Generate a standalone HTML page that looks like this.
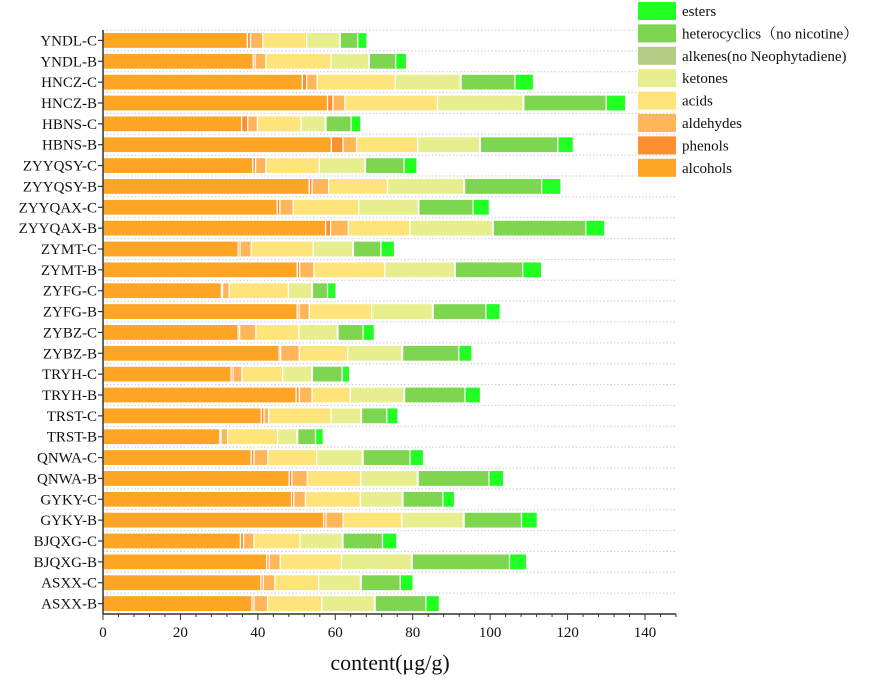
<!DOCTYPE html>
<html><head><meta charset="utf-8"><style>
body{margin:0;background:#fff;width:886px;height:676px;overflow:hidden}
svg text{font-family:"Liberation Serif","Noto Serif CJK SC",serif;fill:#111}
</style></head><body>
<svg id="chart" width="886" height="676" viewBox="0 0 886 676" xmlns="http://www.w3.org/2000/svg">
<g id="grid"></g>
<g id="bars"></g>
<g id="axes"></g>
<g id="legend"></g>
<text x="390" y="670" text-anchor="middle" font-size="22">content(μg/g)</text>
</svg>
<script>
const categories=["YNDL-C","YNDL-B","HNCZ-C","HNCZ-B","HBNS-C","HBNS-B","ZYYQSY-C","ZYYQSY-B","ZYYQAX-C","ZYYQAX-B","ZYMT-C","ZYMT-B","ZYFG-C","ZYFG-B","ZYBZ-C","ZYBZ-B","TRYH-C","TRYH-B","TRST-C","TRST-B","QNWA-C","QNWA-B","GYKY-C","GYKY-B","BJQXG-C","BJQXG-B","ASXX-C","ASXX-B"];
const alcohols=[37.3,38.8,51.5,58.0,35.8,59.0,38.7,53.3,45.0,57.5,34.9,50.2,30.6,50.2,34.9,45.5,33.1,49.9,40.9,30.2,38.3,48.1,48.7,57.0,35.5,42.3,40.8,38.5];
const phenols=[0.8,0.5,1.1,1.4,1.6,3.0,0.7,0.7,0.7,1.3,0.5,0.6,0.3,0.5,0.4,0.4,0.5,0.8,0.7,0.3,0.7,0.7,0.6,0.6,0.8,0.6,0.6,0.5];
const aldehydes=[3.2,2.8,2.7,3.1,2.5,3.5,2.7,4.3,3.4,4.6,2.9,3.7,1.7,2.6,4.2,4.8,2.3,3.3,1.2,1.7,3.6,4.0,3.0,4.4,2.7,2.9,3.0,3.5];
const acids=[11.3,16.8,20.2,23.9,11.3,15.8,13.8,15.2,17.0,15.9,16.0,18.3,15.3,16.1,11.1,12.5,10.5,9.9,16.1,12.9,12.6,13.8,14.2,15.2,11.9,15.8,11.3,14.0];
const ketones=[8.5,9.7,16.8,22.1,6.2,16.0,11.7,19.7,15.3,21.3,10.2,18.0,6.0,15.7,9.9,14.0,7.5,13.8,7.7,5.0,11.8,14.6,10.8,15.9,10.9,18.1,10.8,13.6];
const alkenes=[0.2,0.2,0.2,0.2,0.2,0.2,0.2,0.2,0.2,0.2,0.2,0.2,0.2,0.2,0.2,0.2,0.2,0.2,0.2,0.2,0.2,0.2,0.2,0.2,0.2,0.2,0.2,0.2];
const heterocyclics=[4.5,6.8,13.9,21.3,6.5,20.0,10.0,19.9,14.0,23.9,7.1,17.4,3.9,13.6,6.5,14.5,7.7,15.6,6.5,4.6,12.1,18.3,10.3,14.8,10.2,25.1,10.1,13.1];
const esters=[2.4,2.8,4.8,5.0,2.5,4.0,3.3,5.0,4.2,4.9,3.5,4.9,2.2,3.7,2.9,3.4,1.9,4.0,2.9,2.0,3.5,3.8,3.0,4.1,3.7,4.4,3.3,3.5];
const xTicks=[0,20,40,60,80,100,120,140];
const seriesNames=["alcohols","phenols","aldehydes","acids","ketones","alkenes","heterocyclics","esters"];
const legendLabels=["esters","heterocyclics（no nicotine）","alkenes(no Neophytadiene)","ketones","acids","aldehydes","phenols","alcohols"];
const colors={alcohols:"#ffa523",phenols:"#fb9030",aldehydes:"#ffb659",acids:"#ffe47c",ketones:"#e6ee8e",alkenes:"#b5cc86",heterocyclics:"#7ed650",esters:"#22ff22"};
const series={alcohols,phenols,aldehydes,acids,ketones,alkenes,heterocyclics,esters};
const NS="http://www.w3.org/2000/svg";
const X0=103,X1=676,XMAX=148,PX=(645-103)/140;
const Y0=30,Y1=614;
const x=v=>X0+v*PX;
const rowH=(Y1-Y0)/categories.length;
const y=i=>Y0+rowH*(i+0.5);
function mk(t,a,p){const e=document.createElementNS(NS,t);for(const k in a)e.setAttribute(k,a[k]);p.appendChild(e);return e;}
const grid=document.getElementById('grid'),bars=document.getElementById('bars'),axes=document.getElementById('axes'),legend=document.getElementById('legend');
for(let i=0;i<=categories.length;i++){
  const g=mk('line',{x1:X0,x2:X1,y1:Y0+rowH*i,y2:Y0+rowH*i,stroke:'#ccc','stroke-dasharray':'1.5,2','stroke-width':1},grid);
  
  
}
categories.forEach((c,i)=>{
  let acc=0;
  seriesNames.forEach(s=>{
    const v=series[s][i];
    const r=mk('rect',{x:x(acc),y:y(i)-8,width:Math.max(v*PX,0.5),height:16,fill:colors[s],stroke:'#fff','stroke-width':1.2},bars);
    
    
    acc+=v;
  });
  const t=mk('text',{x:X0-6,y:y(i)+5,'text-anchor':'end','font-size':15},axes);
  t.textContent=c;
  
  
  const tk=mk('line',{x1:X0-5,x2:X0,y1:y(i),y2:y(i),stroke:'#333','stroke-width':1.2},axes);
  
  
});
const ya=mk('line',{x1:X0,x2:X0,y1:Y0,y2:Y1,stroke:'#333','stroke-width':1.5},axes);


const xa=mk('line',{x1:X0,x2:X1,y1:Y1,y2:Y1,stroke:'#333','stroke-width':1.5},axes);


for(let v=0;v<=XMAX;v+=4){
  const m=mk('line',{x1:x(v),x2:x(v),y1:Y1,y2:Y1+(v%20===0?6:3),stroke:'#333','stroke-width':1},axes);
  
  
}
xTicks.forEach(v=>{
  const t=mk('text',{x:x(v),y:Y1+23,'text-anchor':'middle','font-size':15},axes);
  t.textContent=v;
  
  
});
legendLabels.forEach((l,i)=>{
  const key=seriesNames[7-i];
  const r=mk('rect',{x:638,y:2+i*22.4,width:38,height:18,fill:colors[key]},legend);
  
  
  const t=mk('text',{x:682,y:16+i*22.4,'font-size':15},legend);
  t.textContent=l;
  
  
});
</script>
</body></html>
